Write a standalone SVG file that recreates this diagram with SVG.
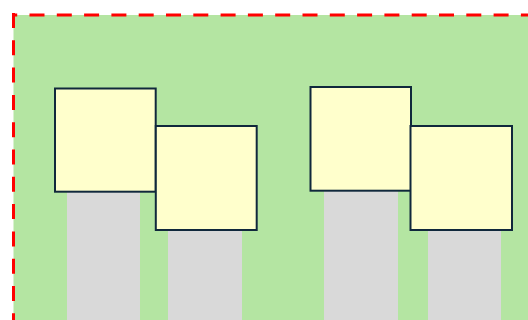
<svg xmlns="http://www.w3.org/2000/svg" width="528" height="320" viewBox="0 0 528 320">
  <style>
    .zone { fill: #b4e5a2; }
    .edge { fill: none; stroke: #ff0000; stroke-width: 3; stroke-dasharray: 15 12.3; }
    .stem { fill: #d9d9d9; }
    .box { fill: #ffffcc; stroke: #10283c; stroke-width: 2; }
  </style>
  <rect width="528" height="320" fill="#ffffff"/>
  <!-- boundary zone with dashed left and top edges -->
  <rect class="zone" x="13.5" y="15" width="515" height="305"/>
  <path class="edge" d="M13.5 13 V320"/>
  <path class="edge" d="M14.5 15 H528" stroke-dashoffset="-15"/>

  <!-- stems behind the boxes -->
  <g id="stems">
    <rect class="stem" x="67" y="190" width="73" height="130"/>
    <rect class="stem" x="168" y="228" width="74" height="92"/>
    <rect class="stem" x="324" y="189" width="74" height="131"/>
    <rect class="stem" x="428" y="228" width="73" height="92"/>
  </g>

  <g id="box1"><rect class="box" x="55" y="88.5" width="100.7" height="103.2"/></g>
  <g id="box2"><rect class="box" x="155.8" y="126" width="100.9" height="104"/></g>
  <g id="box3"><rect class="box" x="310.5" y="87" width="100.5" height="103.7"/></g>
  <g id="box4"><rect class="box" x="410.5" y="126" width="101.5" height="104"/></g>
</svg>
